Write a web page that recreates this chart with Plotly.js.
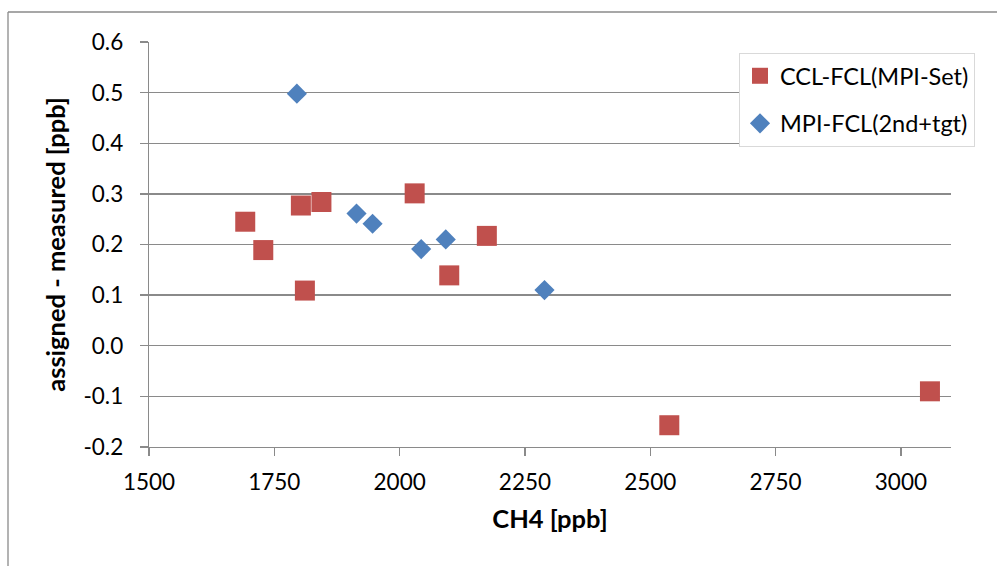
<!DOCTYPE html>
<html>
<head>
<meta charset="utf-8">
<script src="https://cdn.plot.ly/plotly-3.0.1.min.js"></script>
<style>html,body{margin:0;padding:0;background:#fff;}#chart{width:997px;height:566px;}</style>
</head>
<body>
<div id="chart"></div>
<script>
// Series: CCL-FCL(MPI-Set)
const cclName = "CCL-FCL(MPI-Set)";
const cclX = [1692, 1728, 1803, 1844, 1811, 2030, 2099, 2174, 2538, 3058];
const cclY = [0.245, 0.189, 0.277, 0.284, 0.109, 0.301, 0.139, 0.217, -0.157, -0.090];
// Series: MPI-FCL(2nd+tgt)
const mpiName = "MPI-FCL(2nd+tgt)";
const mpiX = [1795, 1914, 1946, 2043, 2092, 2289];
const mpiY = [0.498, 0.261, 0.241, 0.191, 0.210, 0.110];
// Axis labels
const xTitle = "CH4 [ppb]";
const yTitle = "assigned - measured [ppb]";
const xTicks = [1500, 1750, 2000, 2250, 2500, 2750, 3000];
const yTicks = [-0.2, -0.1, 0.0, 0.1, 0.2, 0.3, 0.4, 0.5, 0.6];

const FONT = "Lato, 'Open Sans', sans-serif";
const GRID = "#8a8a8a";

const traces = [
  {x: cclX, y: cclY, name: cclName, type: "scatter", mode: "markers", legendgroup: "a",
   marker: {symbol: "square", size: 20, color: "#C0504D", line: {width: 0}}},
  {x: mpiX, y: mpiY, name: mpiName, type: "scatter", mode: "markers", legendgroup: "b",
   marker: {symbol: "diamond", size: 15.5, color: "#4F81BD", line: {width: 0}}}
];

const L = 149, R = 951, T = 42, B = 447;
const px = v => (v - L) / (R - L);
const py = v => (B - v) / (B - T);

const layout = {
  width: 997, height: 566,
  margin: {l: L, r: 997 - R, t: T, b: 566 - B, pad: 0},
  paper_bgcolor: "#fff", plot_bgcolor: "#fff",
  font: {family: FONT, size: 22, color: "#000"},
  showlegend: true,
  legend: {x: px(739), y: py(53), xanchor: "left", yanchor: "top",
    bordercolor: "#d9d9d9", borderwidth: 1, bgcolor: "#fff",
    font: {family: FONT, size: 23.5, color: "#000"},
    traceorder: "grouped", tracegroupgap: 14, itemwidth: 30},
  xaxis: {range: [1500, 3100], tickvals: xTicks, ticktext: xTicks.map(String),
    showgrid: false, zeroline: false, showline: true, linecolor: GRID, linewidth: 1.3,
    ticks: "outside", ticklen: 8, tickcolor: GRID, tickwidth: 1.3,
    tickfont: {family: FONT, size: 22.5, color: "#000"}, ticklabelstandoff: 7,
    title: {text: "<b>" + xTitle + "</b>", font: {family: FONT, size: 25.5, color: "#000"}, standoff: 16}},
  yaxis: {range: [-0.2, 0.6], tickvals: yTicks, ticktext: yTicks.map(v => v.toFixed(1)),
    showgrid: true, gridcolor: GRID, gridwidth: 1.3, zeroline: false,
    showline: true, linecolor: GRID, linewidth: 1.3,
    ticks: "outside", ticklen: 8, tickcolor: GRID, tickwidth: 1.3,
    tickfont: {family: FONT, size: 22.5, color: "#000"}, ticklabelstandoff: 12,
    title: {text: "<b>" + yTitle + "</b>", font: {family: FONT, size: 25.5, color: "#000"}, standoff: 10}},
  shapes: [
    {type: "line", xref: "paper", yref: "paper", x0: px(8), x1: px(1000), y0: py(12), y1: py(12), line: {color: GRID, width: 1.3}},
    {type: "line", xref: "paper", yref: "paper", x0: px(8), x1: px(8), y0: py(12), y1: py(570), line: {color: GRID, width: 1.3}}
  ]
};

Plotly.newPlot("chart", traces, layout, {displayModeBar: false, staticPlot: true});
</script>
</body>
</html>
